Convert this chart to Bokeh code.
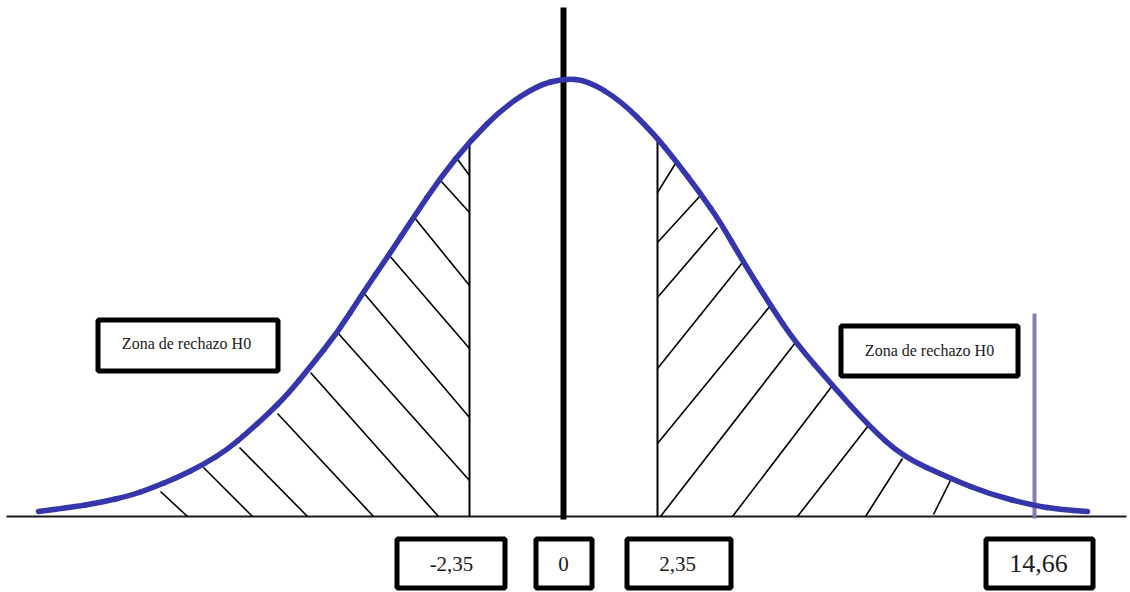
from bokeh.plotting import figure
from bokeh.models import Range1d, ColumnDataSource
from bokeh.core.properties import value
from bokeh.embed import file_html
from bokeh.resources import INLINE

# ---- data (diagram coordinates) ----
curve_x = [38, 70, 100, 130, 150, 177, 203, 227, 247, 267, 287, 310, 337, 362, 388,
           413, 440, 470, 503, 537, 563, 587, 620, 653, 675, 700, 720, 742, 770, 795,
           832, 868, 902, 950, 990, 1033, 1060, 1087]
curve_y = [511, 507, 502, 495, 488, 477, 464, 449, 432, 414, 394, 366, 332, 293, 255,
           217, 177, 140, 107, 85, 78, 80, 100, 133, 160, 193, 222, 260, 305, 342,
           385, 425, 456, 478, 494, 505, 509, 511]

# hatch segments, left tail (down-right strokes) then right tail (up-right strokes)
hatch_x0 = [160, 203, 239, 277, 310, 337, 362, 388, 413, 440, 455,
            657, 657, 657, 657, 657, 660, 732, 797, 865, 933]
hatch_y0 = [491, 467, 447, 413, 372, 332, 291, 254, 216, 180, 156,
            192, 242, 297, 368, 443, 516, 516, 516, 516, 514]
hatch_x1 = [187, 252, 307, 373, 438, 469, 469, 469, 469, 469, 469,
            675, 700, 717, 742, 770, 795, 832, 868, 902, 950]
hatch_y1 = [516, 516, 516, 516, 516, 480, 417, 348, 285, 212, 175,
            163, 195, 227, 262, 305, 342, 385, 425, 458, 480]

# critical values and labels
crit_labels = ["-2,35", "0", "2,35", "14,66"]
crit_x = [451, 563, 677, 1038]
crit_box_left = [396.5, 535.5, 626.5, 985.5]
crit_box_right = [504.5, 591.5, 730.5, 1092.5]
crit_font = ["21px", "21px", "21px", "26px"]

zone_labels = ["Zona de rechazo H0", "Zona de rechazo H0"]
zone_x = [186, 929]
zone_y = [343, 350]
zone_left = [97.5, 840.5]
zone_right = [277.5, 1017.5]
zone_top = [319.5, 325.5]
zone_bottom = [370.5, 375.5]

# ---- figure ----
p = figure(width=1130, height=592, output_backend="svg", toolbar_location=None,
           x_range=Range1d(0, 1130), y_range=Range1d(592, 0),
           min_border=0, background_fill_color="white", border_fill_color="white")
p.axis.visible = False
p.grid.visible = False
p.outline_line_color = None

# baseline
p.segment(x0=[6], y0=[516], x1=[1126], y1=[516], line_color="#1a1a1a", line_width=2)

# hatching
p.segment(x0=hatch_x0, y0=hatch_y0, x1=hatch_x1, y1=hatch_y1,
          line_color="black", line_width=1.6)

# critical vertical lines
p.segment(x0=[469, 657], y0=[143, 140], x1=[469, 657], y1=[516, 516],
          line_color="black", line_width=2)

# central axis
p.segment(x0=[563], y0=[7], x1=[563], y1=[519], line_color="black", line_width=6)

# purple line at 14,66
p.segment(x0=[1034], y0=[313], x1=[1034], y1=[518], line_color="#8a7aae", line_width=4)

# normal curve, drawn smoothly with quadratic pieces through the read points
mx = [(a + b) / 2 for a, b in zip(curve_x[:-1], curve_x[1:])]
my = [(a + b) / 2 for a, b in zip(curve_y[:-1], curve_y[1:])]
qsrc = ColumnDataSource(dict(
    x0=[curve_x[0]] + mx[1:-1],
    y0=[curve_y[0]] + my[1:-1],
    x1=mx[1:],
    y1=my[1:],
    cx=curve_x[1:-1],
    cy=curve_y[1:-1],
))
p.quadratic(x0="x0", y0="y0", x1="x1", y1="y1", cx="cx", cy="cy", source=qsrc,
            line_color="#3636ac", line_width=5.5, line_cap="round")
p.segment(x0=[mx[-1]], y0=[my[-1]], x1=[curve_x[-1]], y1=[curve_y[-1]],
          line_color="#3636ac", line_width=5.5, line_cap="round")

# zone boxes
p.quad(left=zone_left, right=zone_right, top=zone_top, bottom=zone_bottom,
       fill_color="white", line_color="black", line_width=5)
p.text(x=zone_x, y=zone_y, text=zone_labels, text_font=value("Liberation Serif"),
       text_font_size="16px", text_color="#1a1a1a",
       text_align="center", text_baseline="middle")

# critical value boxes
src = ColumnDataSource(dict(x=crit_x, t=crit_labels, l=crit_box_left, r=crit_box_right,
                            fs=crit_font))
p.quad(left="l", right="r", top=538.5, bottom=587.5, source=src,
       fill_color="white", line_color="black", line_width=5)
p.text(x="x", y=563, text="t", source=src, text_font=value("Liberation Serif"),
       text_font_size="fs", text_color="#1a1a1a",
       text_align="center", text_baseline="middle")

open("out.html", "w").write(file_html(p, INLINE))
